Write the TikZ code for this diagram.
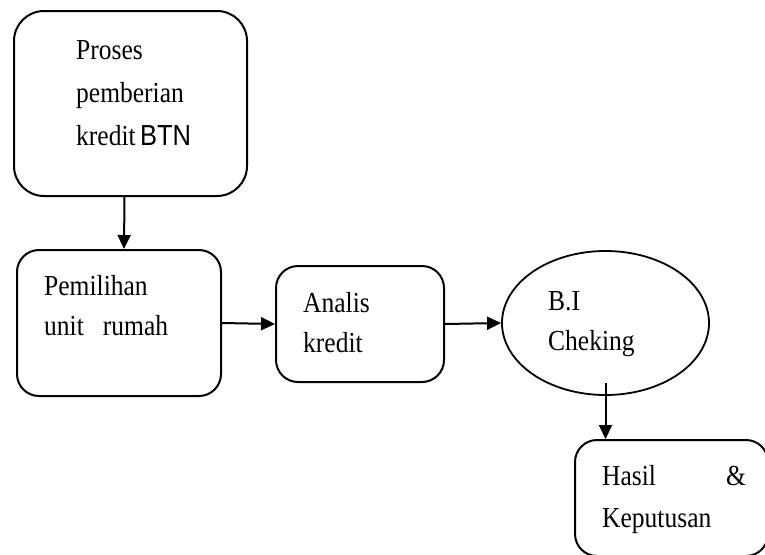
\documentclass[tikz,border=0pt]{standalone}
\usepackage{fontspec}
\setmainfont[FakeStretch=0.88]{Liberation Serif}
\setsansfont[FakeStretch=0.88]{Liberation Sans}
\usetikzlibrary{arrows.meta,shapes.geometric}

\tikzset{
  box/.style={draw, line width=2pt, rounded corners=22pt, inner sep=0pt},
  oval/.style={draw, line width=1.8pt, ellipse, inner sep=0pt},
  txt/.style={anchor=base west, align=left, inner sep=0pt,
    font=\fontsize{29}{40}\selectfont},
}

\begin{document}
\begin{tikzpicture}[x=1pt,y=-1pt]
    \clip (0,0) rectangle (765,554);
    %% Draw the shapes
    \node[box, rounded corners=30pt, minimum width=233pt, minimum height=185pt] (proses) at (130.5,103.5) {};
    \node[box, minimum width=204pt, minimum height=146pt] (pemilihan) at (119,323) {};
    \node[box, minimum width=168pt, minimum height=116pt] (analis) at (360,324) {};
    \node[oval, minimum width=207pt, minimum height=144pt] (bi) at (605.5,323) {};
    \node[box, minimum width=193pt, minimum height=116pt] (hasil) at (671.5,498) {};
    %% Draw the texts (anchored at the last line)
    \node[txt] (prosesT) at (76,145) {Proses\\[3pt]pemberian\\[3pt]kredit\hspace{-2pt} {\sffamily BTN}};
    \node[txt] (pemilihanT) at (44,335) {Pemilihan\\unit\hspace{19pt}rumah};
    \node[txt] (analisT) at (303,352) {Analis\\kredit};
    \node[txt] (biT) at (548,350) {B.I\\Cheking};
    \node[txt] (hasilT) at (602,527) {Hasil\hspace{70pt}\&\\[2pt]Keputusan};
    %% Draw the edges
    \begin{scope}[every path/.style={line width=2pt, -{Triangle[length=14pt,width=13pt]}}]
      \draw ([xshift=-6pt]proses.south) -- ([xshift=5pt]pemilihan.north);
      \draw (pemilihan.east) -- (analis.west);
      \draw (analis.east) -- (bi.west);
      \draw ([yshift=13pt]bi.south) -- (bi.south |- hasil.north);
    \end{scope}
  \end{tikzpicture}
\end{document}
